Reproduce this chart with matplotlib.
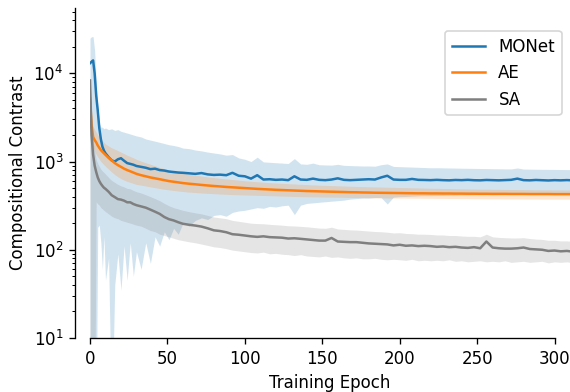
import matplotlib.pyplot as plt

epochs = [0, 1, 2, 3, 4, 5, 6, 7, 8, 9, 10,
          12, 14, 16, 18, 20, 22, 24, 26, 28, 30,
          33, 36, 39, 42, 45, 48, 51, 54, 57, 60,
          64, 68, 72, 76, 80, 84, 88, 92, 96, 100,
          104, 108, 112, 116, 120, 124, 128, 132, 136, 140,
          144, 148, 152, 156, 160, 164, 168, 172, 176, 180,
          184, 188, 192, 196, 200, 204, 208, 212, 216, 220,
          224, 228, 232, 236, 240, 244, 248, 252, 256, 260,
          264, 268, 272, 276, 280, 284, 288, 292, 296, 300,
          304, 308, 310]

# MONet
monet_mean = [13000, 13500, 14000, 10000, 5600, 3800, 2400, 1800, 1480, 1330, 1240,
              1120, 1030, 1000, 1060, 1090, 1020, 960, 940, 920, 890,
              870, 850, 820, 830, 800, 790, 770, 760, 750, 745,
              735, 725, 740, 715, 705, 710, 700, 745, 690, 680,
              640, 700, 625, 630, 620, 625, 615, 680, 625, 620,
              640, 620, 615, 625, 645, 620, 615, 620, 625, 630,
              625, 660, 690, 625, 620, 620, 635, 620, 618, 615,
              620, 615, 612, 618, 615, 620, 614, 612, 618, 615,
              612, 616, 620, 640, 615, 612, 618, 614, 610, 615,
              612, 616, 614]
monet_hi = [25000, 26000, 26000, 18000, 8000, 4200, 2700, 2450, 2450, 2350, 2400,
            2300, 2350, 2250, 2300, 2200, 2150, 2100, 2050, 2000, 1950,
            1900, 1800, 1750, 1700, 1650, 1600, 1550, 1520, 1480, 1420,
            1400, 1350, 1320, 1280, 1250, 1220, 1180, 1200, 1100, 1060,
            1000, 1120, 990, 980, 970, 960, 950, 1080, 940, 930,
            960, 920, 915, 910, 930, 905, 900, 895, 890, 890,
            885, 920, 940, 880, 875, 870, 865, 860, 855, 850,
            850, 848, 845, 843, 840, 838, 836, 834, 832, 830,
            828, 826, 825, 845, 822, 820, 818, 816, 815, 814,
            812, 810, 810]
monet_lo = [1, 1, 1, 1, 1, 180, 190, 120, 60, 140, 45,
            80, 1, 40, 90, 35, 110, 45, 120, 50, 95,
            60, 120, 70, 140, 110, 160, 130, 175, 150, 200,
            185, 215, 230, 220, 245, 250, 240, 265, 275, 280,
            290, 300, 295, 310, 305, 315, 320, 250, 320, 335,
            340, 345, 350, 355, 360, 365, 375, 380, 385, 385,
            390, 390, 330, 395, 400, 402, 405, 408, 410, 410,
            412, 413, 414, 415, 416, 417, 418, 419, 420, 420,
            421, 422, 423, 424, 425, 425, 426, 427, 428, 428,
            429, 430, 430]

# AE
ae_mean = [5200, 2600, 1900, 1750, 1650, 1520, 1430, 1350, 1290, 1240, 1190,
           1100, 1030, 960, 910, 870, 830, 800, 775, 750, 725,
           700, 680, 660, 645, 630, 615, 600, 590, 580, 570,
           560, 552, 543, 535, 528, 522, 515, 510, 505, 500,
           495, 490, 486, 482, 478, 475, 472, 469, 466, 463,
           461, 459, 457, 455, 453, 451, 449, 448, 446, 445,
           443, 442, 441, 440, 439, 438, 437, 436, 436, 435,
           435, 434, 434, 433, 433, 432, 432, 431, 431, 430,
           430, 430, 429, 429, 429, 428, 428, 428, 428, 427,
           427, 427, 427]
ae_hi = [6500, 3300, 2500, 2300, 2150, 2000, 1900, 1800, 1720, 1650, 1580,
         1500, 1430, 1380, 1330, 1280, 1230, 1180, 1140, 1100, 1060,
         1010, 970, 930, 895, 860, 830, 800, 780, 760, 740,
         720, 700, 685, 670, 657, 645, 635, 625, 615, 605,
         597, 590, 583, 577, 571, 566, 561, 556, 552, 548,
         544, 540, 537, 534, 531, 528, 525, 522, 520, 518,
         516, 514, 512, 510, 508, 506, 504, 502, 500, 498,
         497, 495, 494, 492, 491, 489, 488, 487, 486, 485,
         484, 483, 482, 481, 480, 479, 478, 477, 477, 476,
         476, 475, 475]
ae_lo = [4000, 2000, 1450, 1300, 1200, 1130, 1060, 1000, 960, 920, 880,
         820, 760, 710, 670, 640, 615, 595, 580, 565, 550,
         540, 528, 516, 505, 495, 485, 477, 470, 463, 457,
         450, 445, 440, 436, 432, 428, 425, 422, 420, 418,
         416, 414, 412, 410, 408, 406, 404, 402, 400, 399,
         398, 397, 396, 395, 394, 393, 392, 391, 390, 389,
         388, 387, 386, 386, 385, 385, 384, 384, 383, 383,
         382, 382, 381, 381, 380, 380, 379, 379, 378, 378,
         378, 377, 377, 377, 376, 376, 376, 375, 375, 375,
         375, 375, 375]

# SA
sa_mean = [8300, 2000, 1200, 900, 760, 660, 600, 560, 530, 505, 490,
           455, 415, 395, 375, 370, 360, 345, 345, 330, 320,
           310, 300, 285, 270, 255, 235, 222, 215, 205, 197,
           192, 188, 183, 175, 166, 163, 158, 150, 148, 145,
           142, 140, 142, 139, 138, 137, 134, 135, 133, 131,
           129, 127, 127, 136, 124, 123, 122, 122, 120, 118,
           117, 116, 115, 112, 114, 111, 112, 110, 111, 110,
           108, 109, 107, 108, 106, 105, 107, 104, 124, 106,
           104, 103, 103, 104, 106, 102, 101, 100, 97, 98,
           96, 97, 96]
sa_hi = [9000, 3000, 1700, 1300, 1050, 950, 880, 820, 780, 750, 720,
         660, 610, 580, 550, 530, 515, 495, 490, 470, 455,
         440, 420, 400, 380, 360, 335, 315, 300, 290, 280,
         270, 262, 255, 245, 235, 230, 225, 215, 210, 205,
         200, 198, 197, 194, 192, 190, 187, 186, 184, 182,
         179, 176, 175, 180, 172, 170, 168, 167, 165, 163,
         161, 160, 158, 155, 156, 153, 152, 150, 150, 149,
         147, 147, 145, 145, 143, 142, 142, 140, 150, 140,
         138, 137, 136, 136, 137, 134, 132, 131, 128, 128,
         126, 126, 125]
sa_lo = [1, 1, 1, 1, 350, 330, 320, 300, 290, 280, 270,
         255, 240, 230, 225, 215, 210, 205, 200, 195, 190,
         185, 175, 165, 160, 150, 145, 140, 135, 130, 127,
         123, 120, 116, 112, 108, 106, 103, 99, 97, 95,
         93, 92, 94, 90, 91, 89, 88, 86, 88, 85,
         84, 83, 85, 82, 83, 81, 80, 81, 79, 79,
         80, 78, 77, 78, 77, 76, 78, 75, 76, 75,
         76, 75, 77, 74, 75, 73, 74, 75, 73, 74,
         73, 75, 72, 73, 74, 72, 73, 74, 71, 73,
         72, 73, 72]

series = [
    ("MONet", monet_mean, monet_lo, monet_hi, "tab:blue"),
    ("AE", ae_mean, ae_lo, ae_hi, "tab:orange"),
    ("SA", sa_mean, sa_lo, sa_hi, "tab:gray"),
]

fig, ax = plt.subplots(figsize=(4.75, 3.267), dpi=120)
fig.subplots_adjust(left=90 / 570, right=1.0, top=1 - 8 / 392, bottom=1 - 338 / 392)

for name, mean, lo, hi, color in series:
    ax.fill_between(epochs, lo, hi, color=color, alpha=0.2, linewidth=0)
    ax.plot(epochs, mean, color=color, label=name)

ax.set_yscale("log")
ax.set_ylim(10, 5.5e4)
ax.set_xlim(0, 310)
ax.set_xticks([0, 50, 100, 150, 200, 250, 300])

# seaborn-like despine with offset / trimmed x axis
ax.spines["top"].set_visible(False)
ax.spines["right"].set_visible(False)
ax.spines["left"].set_position(("outward", 9))
ax.spines["bottom"].set_bounds(0, 300)

ax.set_xlabel("Training Epoch")
ax.set_ylabel("Compositional Contrast")
ax.legend(loc="upper right", bbox_to_anchor=(1.0, 0.955))

fig.savefig("out.png", dpi=120)
